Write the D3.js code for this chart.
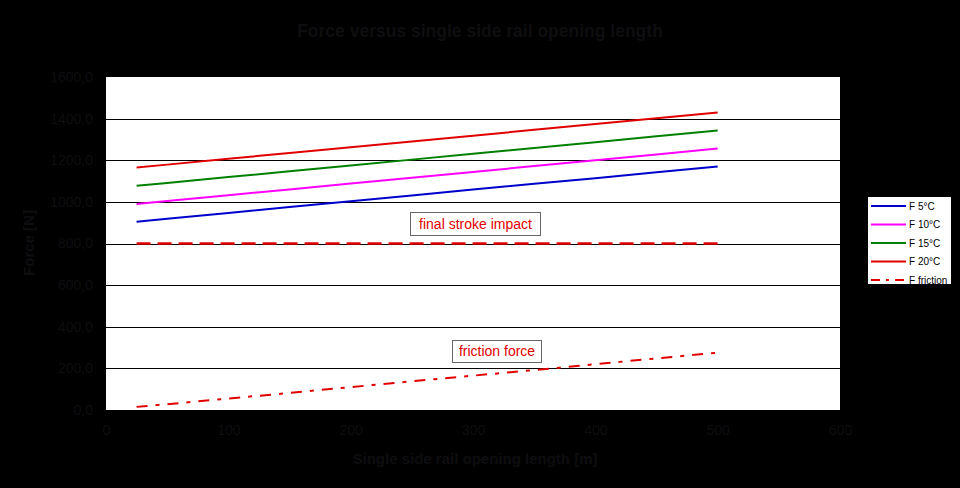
<!DOCTYPE html>
<html><head><meta charset="utf-8">
<script src="https://cdn.jsdelivr.net/npm/d3@7"></script>
<style>html,body{margin:0;padding:0;background:#000;}</style>
</head><body>
<svg id="chart" width="960" height="488"></svg>
<script>
const xValues = [25, 50, 100, 150, 200, 250, 300, 350, 400, 450, 500];
const f5  = [905, 919, 947, 975, 1003, 1031, 1059, 1087, 1114, 1142, 1170];
const f10 = [990, 1004, 1032, 1060, 1088, 1116, 1144, 1172, 1200, 1228, 1256];
const f15 = [1077, 1091, 1119, 1147, 1175, 1203, 1231, 1259, 1287, 1315, 1343];
const f20 = [1165, 1179, 1207, 1235, 1263, 1290, 1318, 1346, 1374, 1402, 1429];
const fFriction = [15, 28, 55, 82, 110, 138, 165, 192, 220, 248, 275];
const fImpact = [800, 800, 800, 800, 800, 800, 800, 800, 800, 800, 800];
const seriesNames = ["F 5°C", "F 10°C", "F 15°C", "F 20°C", "F friction"];
const xTicks = [0, 100, 200, 300, 400, 500, 600];
const yTicks = [0, 200, 400, 600, 800, 1000, 1200, 1400, 1600];
const titleText = "Force versus single side rail opening length";
const xLabel = "Single side rail opening length [m]";
const yLabel = "Force [N]";
const annotations = [{text: "final stroke impact", x: 410, y: 212, w: 130, h: 23},
                     {text: "friction force", x: 452, y: 340, w: 89, h: 22}];

const svg = d3.select("#chart");
const W = 960, H = 488;
const L = 106, R = 840, T = 77, B = 410;
const x = d3.scaleLinear().domain([0, 600]).range([L, R]);
const y = d3.scaleLinear().domain([0, 1600]).range([B, T]);
const dark = "#0e0e10";
const font = "Liberation Sans, Arial, sans-serif";

svg.append("rect").attr("width", W).attr("height", H).attr("fill", "#000");
svg.append("rect").attr("x", L).attr("y", T).attr("width", R - L).attr("height", B - T).attr("fill", "#fff");

// gridlines
svg.append("g").selectAll("line").data(yTicks.filter(d => d > 0 && d < 1600)).join("line")
  .attr("x1", L).attr("x2", R).attr("y1", d => Math.round(y(d)) + 0.5).attr("y2", d => Math.round(y(d)) + 0.5)
  .attr("stroke", "#000").attr("stroke-width", 1);

// axes
const yAxis = d3.axisLeft(y).tickValues(yTicks).tickFormat(d => d3.format(".1f")(d).replace(".", ",")).tickSize(0).tickPadding(13);
const gy = svg.append("g").attr("transform", `translate(${L},0)`).call(yAxis);
gy.select(".domain").remove();
gy.selectAll("text").attr("fill", dark).attr("font-family", font).attr("font-size", 14);

const xAxis = d3.axisBottom(x).tickValues(xTicks).tickFormat(d3.format("d")).tickSize(0).tickPadding(15);
const gx = svg.append("g").attr("transform", `translate(0,${B})`).call(xAxis);
gx.select(".domain").remove();
gx.selectAll("text").attr("fill", dark).attr("font-family", font).attr("font-size", 14);

// lines
const line = d3.line().x((d, i) => x(xValues[i])).y(d => y(d));
const defs = [
  {data: f5, color: "#0000cc", dash: null},
  {data: f10, color: "#ff00ff", dash: null},
  {data: f15, color: "#008000", dash: null},
  {data: f20, color: "#e00000", dash: null},
  {data: fFriction, color: "#e00000", dash: "11,8,4,8"}
];
svg.append("path").attr("d", line(fImpact)).attr("fill", "none").attr("stroke", "#e00000")
  .attr("stroke-width", 2.5).attr("stroke-dasharray", "14,7");
defs.forEach(s => {
  svg.append("path").attr("d", line(s.data)).attr("fill", "none").attr("stroke", s.color)
    .attr("stroke-width", 2).attr("stroke-dasharray", s.dash);
});

// annotations
annotations.forEach(a => {
  svg.append("rect").attr("x", a.x + 0.5).attr("y", a.y + 0.5).attr("width", a.w).attr("height", a.h)
    .attr("fill", "#fff").attr("stroke", "#666").attr("stroke-width", 1);
  svg.append("text").attr("x", a.x + a.w / 2 + 0.5).attr("y", a.y + a.h / 2 + 5).attr("text-anchor", "middle")
    .attr("font-family", font).attr("font-size", 14).attr("fill", "#e00000").text(a.text);
});

// legend
const lg = svg.append("g");
lg.append("rect").attr("x", 867.5).attr("y", 196.5).attr("width", 84).attr("height", 88)
  .attr("fill", "#fff").attr("stroke", "#000");
defs.forEach((s, i) => {
  const yy = 206 + i * 18.5;
  lg.append("line").attr("x1", 871).attr("x2", 906).attr("y1", yy).attr("y2", yy)
    .attr("stroke", s.color).attr("stroke-width", 2)
    .attr("stroke-dasharray", s.dash ? "9,6,3,6" : null);
  lg.append("text").attr("x", 909).attr("y", yy + 3.5).attr("font-family", font).attr("font-size", 10)
    .attr("fill", "#000").text(seriesNames[i]);
});

// titles
svg.append("text").attr("x", 480).attr("y", 37).attr("text-anchor", "middle").attr("font-family", font)
  .attr("font-weight", "bold").attr("font-size", 17.5).attr("fill", dark).text(titleText);
svg.append("text").attr("x", 475).attr("y", 464).attr("text-anchor", "middle").attr("font-family", font)
  .attr("font-weight", "bold").attr("font-size", 15).attr("fill", dark).text(xLabel);
svg.append("text").attr("transform", "translate(34,243) rotate(-90)").attr("text-anchor", "middle").attr("font-family", font)
  .attr("font-weight", "bold").attr("font-size", 15).attr("fill", dark).text(yLabel);
</script>
</body></html>
